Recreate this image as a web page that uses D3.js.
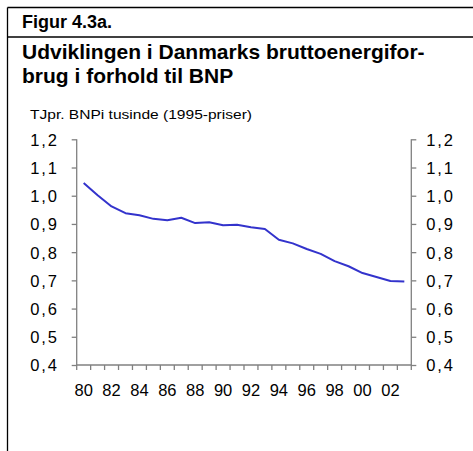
<!DOCTYPE html>
<html><head><meta charset="utf-8">
<script src="https://cdn.jsdelivr.net/npm/d3@7"></script>
<style>
html,body{margin:0;padding:0;background:#fff;}
svg{display:block;font-family:"Liberation Sans",Arial,sans-serif;}
</style></head>
<body>
<script>
const years = ["80","81","82","83","84","85","86","87","88","89","90","91","92","93","94","95","96","97","98","99","00","01","02","03"];
const values = [1.045,1.002,0.962,0.938,0.931,0.918,0.913,0.922,0.903,0.906,0.895,0.897,0.888,0.882,0.844,0.831,0.811,0.794,0.768,0.750,0.726,0.712,0.698,0.696];
const yTicks = [0.4,0.5,0.6,0.7,0.8,0.9,1.0,1.1,1.2];
const xLabelYears = ["80","82","84","86","88","90","92","94","96","98","00","02"];
const figLabel = "Figur 4.3a.";
const titleLines = ["Udviklingen i Danmarks bruttoenergifor-","brug i forhold til BNP"];
const unitLabel = "TJpr. BNPi tusinde (1995-priser)";

const W = 473, H = 451;
const svg = d3.select("body").append("svg").attr("width",W).attr("height",H);

// frame
svg.append("line").attr("x1",7.5).attr("x2",7.5).attr("y1",7.5).attr("y2",H).attr("stroke","#000").attr("stroke-width",1.3);
svg.append("line").attr("x1",7.5).attr("x2",W).attr("y1",7.5).attr("y2",7.5).attr("stroke","#000").attr("stroke-width",1.3);
svg.append("line").attr("x1",7.5).attr("x2",W).attr("y1",37).attr("y2",37).attr("stroke","#000").attr("stroke-width",1.3);

svg.append("text").attr("x",22).attr("y",28).attr("font-size",18).attr("font-weight","bold").text(figLabel);
const tl = svg.append("text").attr("x",22).attr("y",59).attr("font-size",21).attr("font-weight","bold").text(titleLines[0]);
svg.append("text").attr("x",22).attr("y",83).attr("font-size",21).attr("font-weight","bold").text(titleLines[1]);
svg.append("text").attr("x",30).attr("y",119).attr("font-size",12.5)
  .attr("textLength",222).attr("lengthAdjust","spacingAndGlyphs").text(unitLabel);

const pLeft = 76.7, pRight = 411.3, pTop = 139.3, pBottom = 365;
const x = d3.scaleBand().domain(years).range([pLeft,pRight]).padding(0);
const y = d3.scaleLinear().domain([0.4,1.2]).range([pBottom,pTop]);
const axisColor = "#808080";
const fmt = d => d3.format(".1f")(d).replace(".",",");

const gl = svg.append("g").attr("transform",`translate(${pLeft},0)`)
  .call(d3.axisLeft(y).tickValues(yTicks).tickSize(5).tickPadding(13).tickFormat(fmt));
const gr = svg.append("g").attr("transform",`translate(${pRight},0)`)
  .call(d3.axisRight(y).tickValues(yTicks).tickSize(5).tickPadding(10).tickFormat(fmt));
[gl,gr].forEach(g=>{
  g.select(".domain").remove();
  g.selectAll(".tick line").attr("stroke",axisColor).attr("stroke-width",1.3);
  g.selectAll(".tick text").attr("font-size",16.5).attr("fill","#000").attr("font-family","Liberation Sans, Arial, sans-serif").attr("letter-spacing",1.8).attr("dy","0.36em");
  g.append("line").attr("x1",0).attr("x2",0).attr("y1",pTop).attr("y2",pBottom).attr("stroke",axisColor).attr("stroke-width",1.3);
});

// x axis
const gx = svg.append("g").attr("transform",`translate(0,${pBottom})`);
gx.append("line").attr("x1",pLeft).attr("x2",pRight).attr("y1",0).attr("y2",0).attr("stroke",axisColor).attr("stroke-width",1.3);
const boundaries = years.map(d=>x(d)).concat([x(years[years.length-1])+x.bandwidth()]);
gx.selectAll("line.tk").data(boundaries).join("line").attr("class","tk")
  .attr("x1",d=>d).attr("x2",d=>d).attr("y1",0).attr("y2",5).attr("stroke",axisColor).attr("stroke-width",1.3);
gx.selectAll("text").data(xLabelYears).join("text")
  .attr("x",d=>x(d)+x.bandwidth()/2).attr("y",31).attr("text-anchor","middle")
  .attr("font-size",16.5).text(d=>d);

// line
const line = d3.line().x((d,i)=>x(years[i])+x.bandwidth()/2).y(d=>y(d));
svg.append("path").datum(values).attr("d",line).attr("fill","none").attr("stroke","#3333cc").attr("stroke-width",2).attr("stroke-linejoin","round");
</script>
</body></html>
